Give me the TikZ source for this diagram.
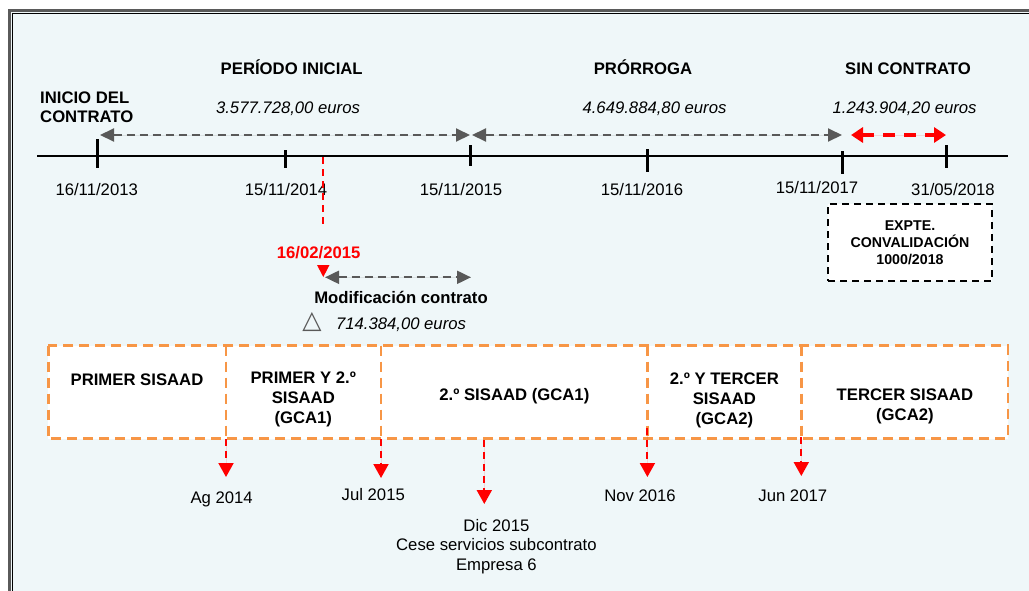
\documentclass[tikz,border=0pt]{standalone}
\usepackage{fontspec}
\setmainfont{Liberation Sans}
\newfontfamily\symfont{DejaVu Sans}
\usetikzlibrary{arrows.meta}
\definecolor{bgblue}{HTML}{EFF7F9}
\definecolor{orangeb}{HTML}{F79646}
\definecolor{grayarr}{HTML}{595959}
\definecolor{framegray}{HTML}{5A5A5A}
\definecolor{redc}{HTML}{FF0000}
\begin{document}
\begin{tikzpicture}[x=1pt,y=-1pt,
  txt/.style={font=\fontsize{16.7}{20}\selectfont, inner sep=0pt, anchor=base},
  btxt/.style={txt, font=\fontsize{16.7}{20}\selectfont\bfseries},
  itxt/.style={txt, font=\fontsize{16.7}{20}\selectfont\itshape},
  boxtxt/.style={font=\fontsize{16.7}{20}\selectfont\bfseries, inner sep=0pt, align=center},
  tickmark/.style={line width=3pt, black},
  grayarrow/.style={draw=grayarr, fill=grayarr, line width=2pt, dash pattern=on 8pt off 5pt,
     {Triangle[length=14pt,width=13pt]}-{Triangle[length=14pt,width=13pt]}},
  redarrow/.style={draw=redc, fill=redc, line width=3.5pt, dash pattern=on 12pt off 9pt,
     {Triangle[length=12pt,width=15pt]}-{Triangle[length=12pt,width=15pt]}},
  reddown/.style={draw=redc, fill=redc, line width=2pt, dash pattern=on 7pt off 5pt,
     -{Triangle[length=14pt,width=15pt]}},
  reddash/.style={draw=redc, line width=2pt, dash pattern=on 7pt off 5pt},
  orangeline/.style={draw=orangeb, line width=2.5pt, dash pattern=on 10pt off 6pt},
]
\useasboundingbox (0,0) rectangle (1029,590);
\fill[white] (0,0) rectangle (1029,590);
\fill[bgblue] (9,11) rectangle (1040,600);
% frame
\draw[framegray, line width=2.5pt] (9.3,600) -- (9.3,10.5) -- (1040,10.5);
\draw[black, line width=1.2pt] (12.6,600) -- (12.6,13.6) -- (1040,13.6);

% timeline
\coordinate (tlL) at (37,156);
\coordinate (tlR) at (1008,156);
\draw[line width=2.2pt] (tlL) -- (tlR);
\coordinate (k1a) at (97.7,139); \coordinate (k1b) at (97.7,168);
\coordinate (k2a) at (285,150);  \coordinate (k2b) at (285,168);
\coordinate (k3a) at (470,145);  \coordinate (k3b) at (470,166);
\coordinate (k4a) at (647.4,149); \coordinate (k4b) at (647.4,172);
\coordinate (k5a) at (842.8,151); \coordinate (k5b) at (842.8,174);
\coordinate (k6a) at (946.4,145); \coordinate (k6b) at (946.4,168);
\foreach \k in {1,...,6} {\draw[tickmark] (k\k a) -- (k\k b);}

% dates
\node[txt] (d1) at (96.7,195) {16/11/2013};
\node[txt] (d2) at (286,195) {15/11/2014};
\node[txt] (d3) at (461,195) {15/11/2015};
\node[txt] (d4) at (642,195) {15/11/2016};
\node[txt] (d5) at (817,193) {15/11/2017};
\node[txt] (d6) at (953,195) {31/05/2018};

% headers
\node[btxt] (h1) at (291.7,74) {PERÍODO INICIAL};
\node[btxt] (h2) at (643,74) {PRÓRROGA};
\node[btxt] (h3) at (908,74) {SIN CONTRATO};
\node[btxt, anchor=west, align=left, font=\fontsize{16.7}{19.4}\selectfont\bfseries] (inicio) at (40,107) {INICIO DEL\\CONTRATO};
\node[itxt] (e1) at (288,113) {3.577.728,00 euros};
\node[itxt] (e2) at (654.5,113) {4.649.884,80 euros};
\node[itxt] (e3) at (904.6,113) {1.243.904,20 euros};

% period arrows
\coordinate (a1) at (100,135); \coordinate (a2) at (470,135);
\coordinate (a3) at (472,135); \coordinate (a4) at (842,135);
\coordinate (r1) at (851,135); \coordinate (r2) at (946,135);
\draw[grayarrow] (a1) -- (a2);
\draw[grayarrow] (a3) -- (a4);
\draw[redarrow] (r1) -- (r2);

% modification
\coordinate (mtop) at (323.3,157);
\coordinate (mbot) at (323.3,227);
\draw[reddash] (mtop) -- (mbot);
\node[btxt, text=redc] (mdate) at (318.7,258.3) {16/02/2015};
\fill[redc] (317,265) -- (329.5,265) -- (323.3,277) -- cycle;
\coordinate (m1) at (325,277.3); \coordinate (m2) at (471,277.3);
\draw[grayarrow] (m1) -- (m2);
\node[btxt] (mod) at (401,303) {Modificación contrato};
\node[inner sep=0pt, text=grayarr, font=\fontsize{25}{25}\symfont] (delta) at (312,321.5) {△};
\node[itxt] (mamt) at (401,329.3) {714.384,00 euros};

% EXPTE box
\node[draw=black, line width=2pt, dash pattern=on 7pt off 5pt, fill=white,
      minimum width=164pt, minimum height=77pt, inner sep=0pt, align=center,
      font=\fontsize{14.2}{17.2}\selectfont\bfseries] (expte) at (910,242.5)
      {EXPTE.\\CONVALIDACIÓN\\1000/2018};

% orange box
\coordinate (obTL) at (48.3,345.5);
\coordinate (obBR) at (1007.8,438.5);
\fill[white] (obTL) rectangle (obBR);
\draw[orangeline] (obTL) rectangle (obBR);
\coordinate (v1t) at (226,345.5); \coordinate (v1b) at (226,438.5);
\coordinate (v2t) at (381,345.5); \coordinate (v2b) at (381,438.5);
\coordinate (v3t) at (647.4,345.5); \coordinate (v3b) at (647.4,438.5);
\coordinate (v4t) at (801.3,345.5); \coordinate (v4b) at (801.3,438.5);
\foreach \v in {1,...,4} {\draw[orangeline] (v\v t) -- (v\v b);}

\node[btxt] (s1) at (137,385.3) {PRIMER SISAAD};
\node[boxtxt] (s2) at (303.3,399.3) {PRIMER Y 2.º\\SISAAD\\(GCA1)};
\node[btxt] (s3) at (514.4,400.3) {2.º SISAAD (GCA1)};
\node[boxtxt] (s4) at (724.4,400.5) {2.º Y TERCER\\SISAAD\\(GCA2)};
\node[boxtxt] (s5) at (904.9,406) {TERCER SISAAD\\(GCA2)};

% down arrows
\coordinate (p1a) at (226,439); \coordinate (p1b) at (226,477);
\coordinate (p2a) at (381,439); \coordinate (p2b) at (381,478);
\coordinate (p3a) at (484.3,440); \coordinate (p3b) at (484.3,504);
\coordinate (p4a) at (647.4,428); \coordinate (p4b) at (647.4,477);
\coordinate (p5a) at (801.3,437); \coordinate (p5b) at (801.3,476);
\foreach \p in {1,...,5} {\draw[reddown] (p\p a) -- (p\p b);}

\node[txt] (l1) at (221.7,503.3) {Ag 2014};
\node[txt] (l2) at (373.3,500.3) {Jul 2015};
\node[txt, anchor=center, align=center, font=\fontsize{16.7}{19.8}\selectfont] (l3) at (496.4,546.5) {Dic 2015\\Cese servicios subcontrato\\Empresa 6};
\node[txt] (l4) at (640,501) {Nov 2016};
\node[txt] (l5) at (792.8,501) {Jun 2017};
\end{tikzpicture}
\end{document}
